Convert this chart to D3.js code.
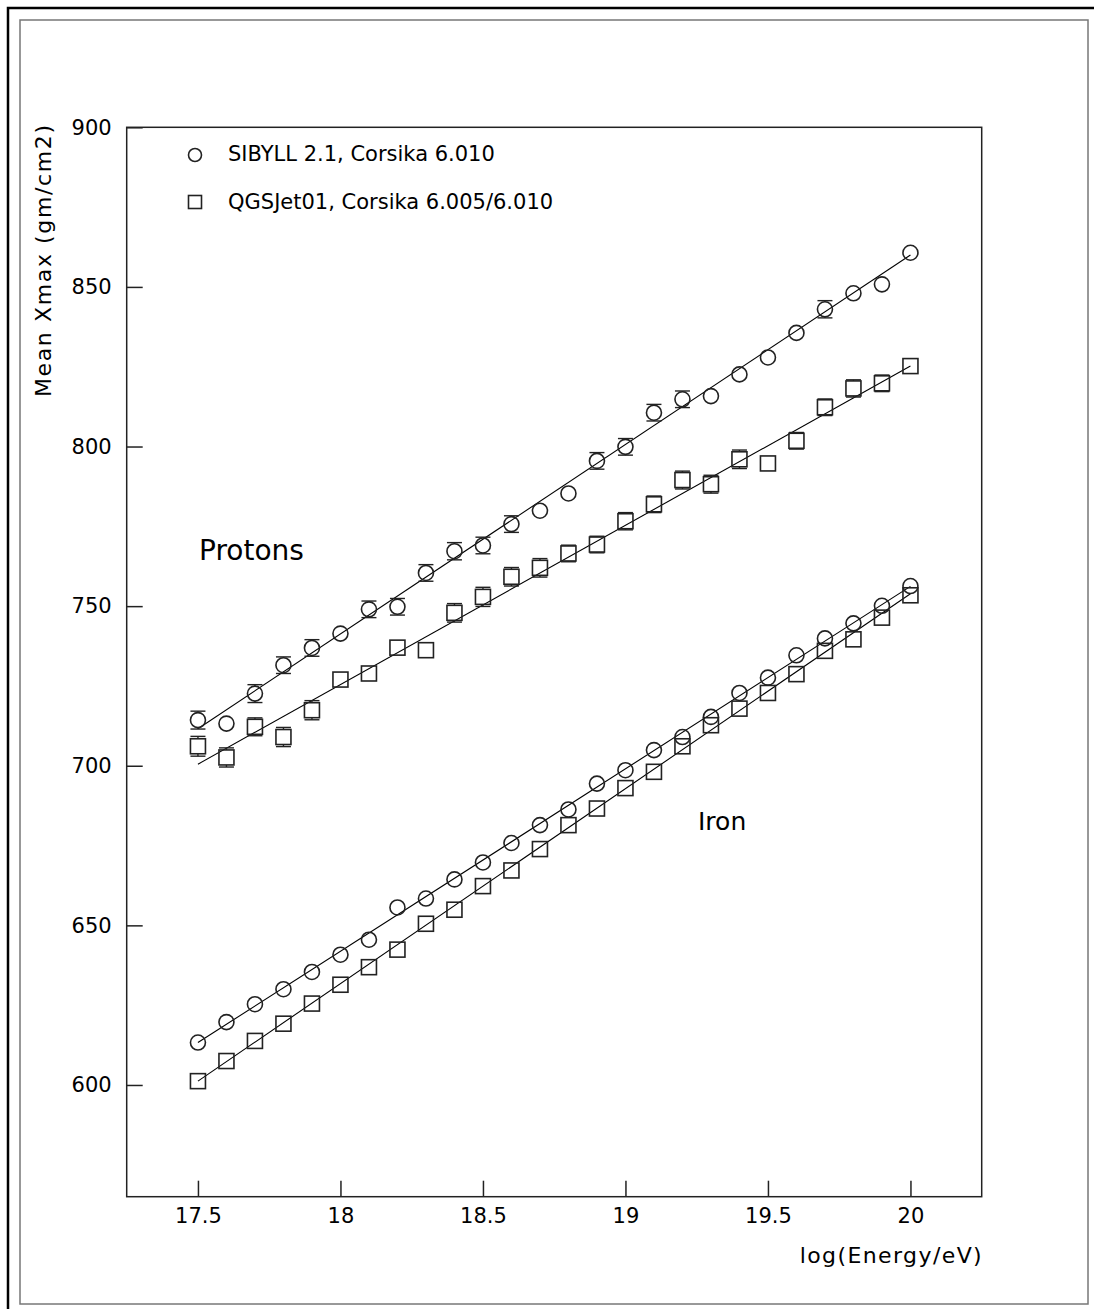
<!DOCTYPE html>
<meta charset="utf-8">
<style>
body { margin: 0; background: #fff; }
text { font-family: "DejaVu Sans", sans-serif; fill: #000; }
.axis path { display: none; }
.axis line { stroke: #222; stroke-width: 1.5; }
.axis text { font-size: 21px; }
.fit { fill: none; stroke: #000; stroke-width: 1.1; }
.mark { fill: none; stroke: #222; stroke-width: 1.6; }
.err { stroke: #222; stroke-width: 1.4; }
</style>
<body>
<script src="https://d3js.org/d3.v7.min.js"></script>
<script>

// log(E/eV) of each simulated bin
const energy = [17.5, 17.6, 17.7, 17.8, 17.9, 18.0, 18.1, 18.2, 18.3, 18.4, 18.5, 18.6, 18.7,
                18.8, 18.9, 19.0, 19.1, 19.2, 19.3, 19.4, 19.5, 19.6, 19.7, 19.8, 19.9, 20.0];

// mean Xmax (gm/cm2)
const sibyllProton = [714.3, 713.2, 722.6, 731.5, 736.9, 741.4, 749.0, 749.8, 760.4, 767.2, 769.0, 775.7, 779.9,
                      785.3, 795.5, 799.9, 810.6, 814.8, 815.8, 822.6, 827.9, 835.6, 843.0, 848.0, 850.8, 860.7];
const sibyllProtonErr = [2.8, 2.0, 2.8, 2.6, 2.6, 2.0, 2.6, 2.6, 2.6, 2.7, 2.6, 2.6, 2.0,
                         2.0, 2.6, 2.6, 2.6, 2.6, 2.5, 2.0, 2.0, 2.0, 2.7, 2.0, 2.0, 2.0];
const qgsProton = [706.1, 702.6, 712.2, 709.0, 717.4, 727.0, 728.9, 737.0, 736.2, 747.9, 752.9, 759.2, 762.0,
                   766.5, 769.3, 776.6, 781.9, 789.5, 788.2, 796.0, 794.7, 801.8, 812.3, 818.2, 819.8, 825.2];
const qgsProtonErr = [3.1, 3.0, 2.8, 3.0, 3.0, 2.0, 2.0, 2.4, 2.4, 2.9, 3.0, 2.9, 2.9,
                      2.6, 2.6, 2.7, 2.6, 2.8, 2.8, 2.9, 2.4, 2.6, 2.6, 2.7, 2.6, 2.0];
const sibyllIron = [613.3, 619.7, 625.3, 630.0, 635.4, 640.8, 645.5, 655.6, 658.4, 664.4, 669.7, 675.8, 681.4,
                    686.3, 694.4, 698.6, 704.9, 709.0, 715.3, 722.8, 727.6, 734.6, 739.9, 744.6, 750.1, 756.3];
const sibyllIronErr = [1.5, 1.5, 1.5, 1.5, 1.5, 1.5, 1.5, 1.5, 1.5, 1.5, 1.5, 1.5, 1.5,
                       1.5, 1.5, 1.5, 1.5, 1.5, 1.5, 1.5, 1.5, 1.5, 1.5, 1.5, 1.5, 1.5];
const qgsIron = [601.2, 607.5, 613.8, 619.2, 625.5, 631.4, 636.9, 642.4, 650.5, 654.9, 662.3, 667.2, 673.9,
                 681.4, 686.6, 693.0, 698.1, 706.1, 712.7, 717.9, 722.8, 728.7, 736.0, 739.6, 746.4, 753.4];
const qgsIronErr = [1.5, 1.5, 1.5, 1.5, 1.5, 1.5, 1.5, 1.5, 1.5, 1.5, 1.5, 1.5, 1.5,
                    1.5, 1.5, 1.5, 1.5, 1.5, 1.5, 1.5, 1.5, 1.5, 1.5, 1.5, 1.5, 1.5];

// straight-line fits, value at the two ends
const fitEnds = [17.5, 20.0];
const sibyllProtonFit = [711.6, 860.0];
const qgsProtonFit = [700.5, 825.2];
const sibyllIronFit = [613.3, 756.2];
const qgsIronFit = [601.2, 753.9];

const xTicks = [17.5, 18, 18.5, 19, 19.5, 20];
const yTicks = [600, 650, 700, 750, 800, 850, 900];
const legendLabels = ["SIBYLL 2.1, Corsika 6.010", "QGSJet01, Corsika 6.005/6.010"];

let width = 1094,
    height = 1309,
    plot = {left: 126.7, right: 981.7, top: 127.3, bottom: 1196.7},
    r = 7.5;

let svg = d3.select("body").append("svg")
    .attr("width", width)
    .attr("height", height);

// page frames
svg.append("rect")
    .attr("x", 20).attr("y", 20)
    .attr("width", 1068).attr("height", 1284)
    .attr("fill", "none").attr("stroke", "#777").attr("stroke-width", 1.5);
svg.append("path")
    .attr("d", "M8," + height + "V8H" + width)
    .attr("fill", "none").attr("stroke", "#000").attr("stroke-width", 2.5);

let x = d3.scaleLinear().domain([17.25, 20.25]).range([plot.left, plot.right]);
let y = d3.scaleLinear().domain([565, 900]).range([plot.bottom, plot.top]);

// axes, ticks pointing inwards
svg.append("g")
    .attr("class", "axis")
    .attr("transform", "translate(0," + plot.bottom + ")")
    .call(d3.axisBottom(x).tickValues(xTicks).tickSizeInner(-16).tickSizeOuter(0)
      .tickPadding(11).tickFormat(function(d) { return String(d); }));

svg.append("g")
    .attr("class", "axis")
    .attr("transform", "translate(" + plot.left + ",0)")
    .call(d3.axisLeft(y).tickValues(yTicks).tickSizeInner(-16).tickSizeOuter(0)
      .tickPadding(15).tickFormat(function(d) { return String(d); }));

svg.append("rect")
    .attr("x", plot.left).attr("y", plot.top)
    .attr("width", plot.right - plot.left).attr("height", plot.bottom - plot.top)
    .attr("fill", "none").attr("stroke", "#222").attr("stroke-width", 1.5);

// axis titles
svg.append("text")
    .attr("x", plot.right).attr("y", 1263)
    .attr("text-anchor", "end")
    .attr("textLength", 182).attr("lengthAdjust", "spacing")
    .style("font-size", "22px")
    .text("log(Energy/eV)");

svg.append("text")
    .attr("transform", "translate(51,261)rotate(-90)")
    .attr("text-anchor", "middle")
    .attr("textLength", 272).attr("lengthAdjust", "spacing")
    .style("font-size", "22px")
    .text("Mean Xmax (gm/cm2)");

// fit lines
let line = d3.line()
    .x(function(d) { return x(d[0]); })
    .y(function(d) { return y(d[1]); });

[sibyllProtonFit, qgsProtonFit, sibyllIronFit, qgsIronFit].forEach(function(f) {
  svg.append("path")
      .attr("class", "fit")
      .attr("d", line(fitEnds.map(function(e, i) { return [e, f[i]]; })));
});

// points with error bars (only the part outside the marker is drawn)
function drawSeries(values, errs, shape) {
  let pts = energy.map(function(e, i) { return {e: e, v: values[i], err: errs[i]}; });
  let g = svg.append("g");

  pts.forEach(function(d) {
    let cx = x(d.e), cy = y(d.v),
        h = Math.abs(y(d.v + d.err) - cy);
    if (h > r + 0.5) {
      [-1, 1].forEach(function(s) {
        g.append("line").attr("class", "err")
            .attr("x1", cx).attr("x2", cx)
            .attr("y1", cy + s * r).attr("y2", cy + s * h);
        g.append("line").attr("class", "err")
            .attr("x1", cx - r).attr("x2", cx + r)
            .attr("y1", cy + s * h).attr("y2", cy + s * h);
      });
    }
  });

  if (shape === "circle") {
    g.selectAll("circle").data(pts).enter().append("circle")
        .attr("class", "mark")
        .attr("cx", function(d) { return x(d.e); })
        .attr("cy", function(d) { return y(d.v); })
        .attr("r", r);
  } else {
    g.selectAll("rect").data(pts).enter().append("rect")
        .attr("class", "mark")
        .attr("x", function(d) { return x(d.e) - r; })
        .attr("y", function(d) { return y(d.v) - r; })
        .attr("width", 2 * r).attr("height", 2 * r);
  }
}

drawSeries(sibyllProton, sibyllProtonErr, "circle");
drawSeries(qgsProton, qgsProtonErr, "square");
drawSeries(sibyllIron, sibyllIronErr, "circle");
drawSeries(qgsIron, qgsIronErr, "square");

// legend
let legend = svg.append("g");
legend.append("circle")
    .attr("class", "mark").attr("stroke-width", 1.3)
    .attr("cx", 195).attr("cy", 155).attr("r", 6.5);
legend.append("rect")
    .attr("class", "mark").attr("stroke-width", 1.3)
    .attr("x", 188.5).attr("y", 195.5).attr("width", 13).attr("height", 13);
legend.selectAll("text").data(legendLabels).enter().append("text")
    .attr("x", 228)
    .attr("y", function(d, i) { return 161 + i * 48; })
    .style("font-size", "21px")
    .text(function(d) { return d; });

// particle labels
svg.append("text")
    .attr("x", 199).attr("y", 560)
    .style("font-size", "28px")
    .text("Protons");
svg.append("text")
    .attr("x", 698).attr("y", 830)
    .style("font-size", "25px")
    .text("Iron");

</script>
